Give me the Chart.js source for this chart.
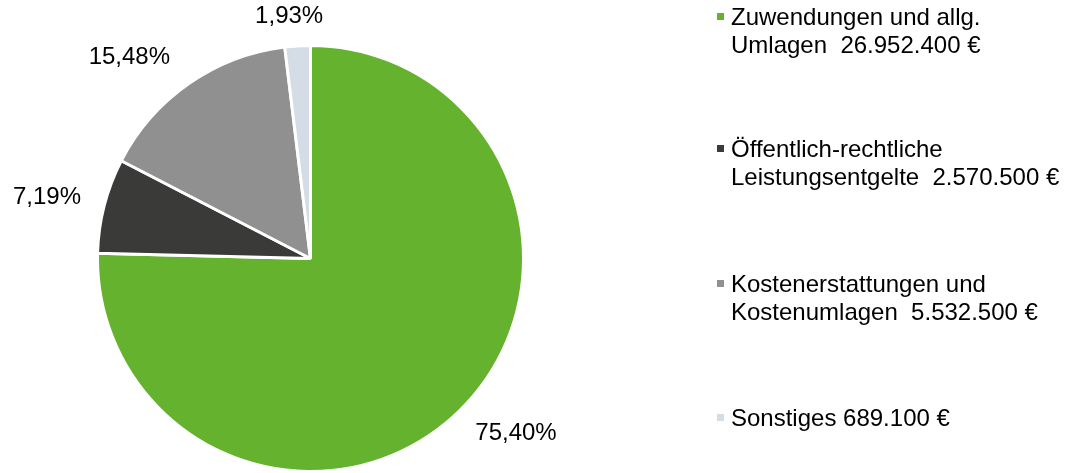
<!DOCTYPE html>
<html>
<head>
<meta charset="utf-8">
<script src="https://cdn.jsdelivr.net/npm/chart.js@4/dist/chart.umd.min.js"></script>
<style>
  body { margin: 0; background: #fff; font-family: "Liberation Sans", Arial, sans-serif; }
  #wrap { position: relative; width: 1066px; height: 473px; }
  #pie { position: absolute; left: 0; top: 0; }
  .leg { position: absolute; left: 731px; font-size: 24px; line-height: 28px; color: #000; white-space: pre; }
  .leg i { position: absolute; left: -14px; top: 10px; width: 7px; height: 7px; }
</style>
</head>
<body>
<div id="wrap">
  <canvas id="pie" width="1066" height="473"></canvas>
  <div id="legend"></div>
</div>
<script>
// Daten
const categories = [
    ['Zuwendungen und allg.', 'Umlagen  26.952.400 €'],
    ['Öffentlich-rechtliche', 'Leistungsentgelte  2.570.500 €'],
    ['Kostenerstattungen und', 'Kostenumlagen  5.532.500 €'],
    ['Sonstiges 689.100 €']
];
const shares = [75.40, 7.19, 15.48, 1.93];
const percentLabels = ['75,40%', '7,19%', '15,48%', '1,93%'];
const colors = ['#65b22e', '#3a3a38', '#909090', '#d4dce6'];

// Legende (HTML)
const legendTops = [3, 135, 270, 404];
const legend = document.getElementById('legend');
categories.forEach((lines, i) => {
    const div = document.createElement('div');
    div.className = 'leg';
    div.style.top = legendTops[i] + 'px';
    div.innerHTML = '<i style="background:' + colors[i] + '"></i>' + lines.join('\n');
    legend.appendChild(div);
});

// Prozentbeschriftungen außerhalb
const labelNudge = [[17, -18], [-2, 6], [-27, 21], [-5, 27]];
const outsideLabels = {
    id: 'outsideLabels',
    afterDatasetsDraw(chart) {
        const ctx = chart.ctx;
        const meta = chart.getDatasetMeta(0);
        ctx.save();
        ctx.font = '24px "Liberation Sans", Arial, sans-serif';
        ctx.fillStyle = '#000';
        ctx.textAlign = 'center';
        ctx.textBaseline = 'middle';
        meta.data.forEach((arc, i) => {
            const p = arc.getProps(['x', 'y', 'startAngle', 'endAngle', 'outerRadius'], true);
            const mid = (p.startAngle + p.endAngle) / 2;
            const r = p.outerRadius + 57;
            const x = p.x + Math.cos(mid) * r + labelNudge[i][0];
            const y = p.y + Math.sin(mid) * r + labelNudge[i][1];
            ctx.fillText(percentLabels[i], x, y);
        });
        ctx.restore();
    }
};

new Chart(document.getElementById('pie'), {
    type: 'pie',
    data: {
        labels: categories.map(c => c.join(' ')),
        datasets: [{
            data: shares,
            backgroundColor: colors,
            borderColor: '#ffffff',
            borderWidth: 3
        }]
    },
    options: {
        responsive: false,
        animation: false,
        layout: { padding: { left: 94, right: 539, top: 44, bottom: -4 } },
        plugins: {
            legend: { display: false },
            tooltip: { enabled: false }
        }
    },
    plugins: [outsideLabels]
});
</script>
</body>
</html>
